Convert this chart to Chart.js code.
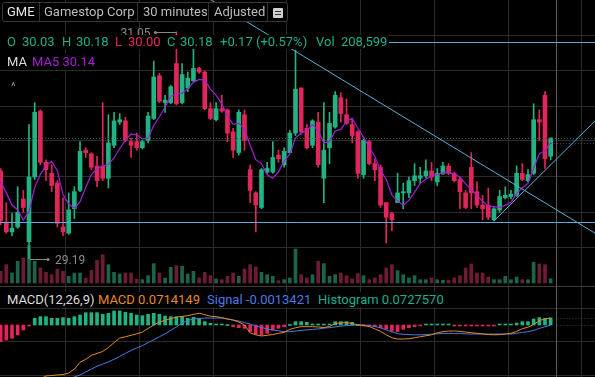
<!DOCTYPE html>
<html>
<head>
<meta charset="utf-8">
<script src="https://cdn.jsdelivr.net/npm/chart.js@4.4.0/dist/chart.umd.min.js"></script>
<style>
  html, body { margin: 0; padding: 0; background: #000; }
  #wrap { position: relative; width: 595px; height: 377px; overflow: hidden; font-family: Roboto, "Open Sans", sans-serif; }
  #c { position: absolute; left: 0; top: 0; }
  .box { position: absolute; background: #000; }
  .t { position: absolute; white-space: nowrap; font-size: 13px; line-height: 14px; }
  .sep { position: absolute; top: 3px; width: 1px; height: 18px; background: #333; }
  .mk { position: absolute; font-size: 12px; line-height: 12px; color: #8a8a8a; white-space: nowrap; }
</style>
</head>
<body>
<div id="wrap">
  <canvas id="c" width="595" height="377"></canvas>
  <div id="hiLbl" class="mk">31.05</div>
  <div id="loLbl" class="mk">29.19</div>

  <div class="box" style="left:2px;top:2px;width:284px;height:18px;border:1px solid #383838;border-radius:3px"></div>
  <div class="t" style="left:7px;top:5px;color:#e6e6e6">GME</div>
  <div class="sep" style="left:39px"></div>
  <div class="t" style="left:44px;top:5px;color:#bdbdbd">Gamestop Corp</div>
  <div class="sep" style="left:137px"></div>
  <div class="t" style="left:143px;top:5px;color:#bdbdbd">30 minutes</div>
  <div class="sep" style="left:208px"></div>
  <div class="t" style="left:214px;top:5px;color:#bdbdbd">Adjusted</div>
  <div class="sep" style="left:267px"></div>
  <div style="position:absolute;left:273px;top:8px;width:10px;height:10px;background:#cfcfcf;border-radius:1px"></div>
  <div style="position:absolute;left:275px;top:11px;width:6px;height:1px;background:#333"></div>
  <div style="position:absolute;left:275px;top:14px;width:6px;height:1px;background:#333"></div>

  <div class="box" style="left:0;top:35px;width:389px;height:14px"></div>
  <div class="t" style="left:7px;top:35px;color:#1fae8e">O</div>
  <div class="t" style="left:22px;top:35px;color:#1fae8e">30.03</div>
  <div class="t" style="left:62px;top:35px;color:#1fae8e">H</div>
  <div class="t" style="left:76px;top:35px;color:#1fae8e">30.18</div>
  <div class="t" style="left:115px;top:35px;color:#e8285c">L</div>
  <div class="t" style="left:128px;top:35px;color:#e8285c">30.00</div>
  <div class="t" style="left:167px;top:35px;color:#1fae8e">C</div>
  <div class="t" style="left:180px;top:35px;color:#1fae8e">30.18</div>
  <div class="t" style="left:220px;top:35px;color:#1fae8e">+0.17 (+0.57%)</div>
  <div class="t" style="left:316px;top:35px;color:#1fae8e">Vol&nbsp; 208,599</div>

  <div class="box" style="left:0;top:53px;width:100px;height:17px"></div>
  <div class="t" style="left:7px;top:55px;color:#dcdcdc">MA</div>
  <div class="t" style="left:32px;top:55px;color:#a51ed6">MA5 30.14</div>
  <div class="t" style="left:11px;top:80px;font-size:11px;color:#9a9a9a">^</div>

  <div class="box" style="left:0;top:292px;width:447px;height:15px"></div>
  <div class="t" style="left:7px;top:293px;color:#dcdcdc">MACD(12,26,9)</div>
  <div class="t" style="left:98px;top:293px;color:#e68a24">MACD 0.0714149</div>
  <div class="t" style="left:207px;top:293px;color:#4a7be6">Signal -0.0013421</div>
  <div class="t" style="left:318px;top:293px;color:#1fae8e">Histogram 0.0727570</div>
</div>
<script>
// 30 minute bars, index 0 = first bar of a session
const firstIndex = -5;
const slots = ['09:30','10:00','10:30','11:00','11:30','12:00','12:30','13:00','13:30','14:00','14:30','15:00','15:30'];

const opens = [29.91,29.49,29.41,29.45,29.68,
  29.33,29.86,30.40,29.98,29.89,29.81,29.45,29.40,29.60,29.75,30.08,30.05,29.95,
  29.95,29.85,30.12,30.31,30.32,30.15,30.15,30.10,30.16,30.34,30.69,30.47,30.47,
  30.79,30.47,30.59,30.65,30.75,30.72,30.42,30.33,30.42,30.41,30.23,30.06,30.37,
  29.92,29.73,29.61,29.90,29.90,30.04,29.96,30.06,30.22,30.59,30.26,30.12,30.31,
  29.85,30.10,30.27,30.51,30.37,30.29,30.23,29.88,30.15,29.97,29.94,29.65,29.56,
  29.65,29.73,29.73,29.83,29.85,29.87,29.91,29.82,29.89,29.95,29.89,29.84,29.73,
  29.94,29.74,29.63,29.63,29.51,29.59,29.69,29.70,29.71,29.89,29.83,29.89,30.33,
  30.53,30.03];
const highs = [29.93,29.65,29.56,29.78,29.75,
  30.29,30.47,30.41,30.00,29.96,29.83,29.69,29.73,29.78,30.15,30.10,30.06,30.03,
  30.47,30.37,30.39,30.38,30.35,30.18,30.22,30.16,30.39,30.81,30.71,30.53,30.61,
  31.05,30.79,30.72,30.94,30.76,30.73,30.47,30.47,30.53,30.42,30.26,30.41,30.41,
  29.96,29.74,29.93,29.98,30.15,30.08,30.10,30.24,30.90,30.59,30.29,30.33,30.39,
  30.47,30.39,30.56,30.55,30.50,30.34,30.24,30.19,30.16,30.01,29.96,29.65,29.57,
  29.89,29.81,29.86,29.97,29.94,30.00,29.98,29.93,29.98,29.97,29.90,29.86,29.75,
  30.06,29.82,29.71,29.77,29.61,29.75,29.78,29.75,29.95,29.97,29.92,30.46,30.41,
  30.56,30.18];
const lows = [29.47,29.40,29.38,29.44,29.57,
  29.19,29.84,29.96,29.83,29.74,29.45,29.38,29.39,29.52,29.74,30.02,29.92,29.78,
  29.83,29.77,30.10,30.29,30.15,30.02,30.08,30.09,30.14,30.33,30.47,30.39,30.46,
  30.45,30.46,30.56,30.64,30.71,30.41,30.33,30.32,30.39,30.15,30.02,30.04,30.08,
  29.65,29.41,29.60,29.89,29.89,29.98,29.94,30.06,30.20,30.21,30.09,30.10,29.94,
  29.65,29.97,30.26,30.31,30.29,30.14,29.85,29.85,29.96,29.83,29.61,29.32,29.42,
  29.65,29.60,29.69,29.79,29.81,29.85,29.83,29.79,29.88,29.88,29.82,29.60,29.60,
  29.60,29.61,29.51,29.51,29.50,29.57,29.68,29.68,29.70,29.83,29.82,29.88,30.16,
  29.93,30.00];
const closes = [29.50,29.41,29.44,29.57,29.61,
  29.86,30.39,29.98,29.92,29.79,29.48,29.41,29.59,29.74,30.07,30.06,29.94,29.83,
  29.85,30.14,30.32,30.33,30.16,30.12,30.10,30.15,30.36,30.68,30.48,30.49,30.60,
  30.46,30.70,30.67,30.75,30.72,30.42,30.34,30.42,30.40,30.22,30.08,30.39,30.16,
  29.75,29.63,29.92,29.93,30.02,30.01,30.07,30.22,30.58,30.23,30.10,30.32,29.96,
  30.08,30.30,30.53,30.38,30.30,30.20,29.89,30.16,29.97,29.92,29.63,29.53,29.51,
  29.73,29.74,29.83,29.87,29.87,29.91,29.86,29.89,29.95,29.89,29.83,29.74,29.61,
  29.73,29.63,29.60,29.53,29.60,29.70,29.71,29.72,29.89,29.84,29.88,30.33,30.31,
  30.01,30.18];
const volumes = [560000,880000,480000,1040000,1200000,
  1800000,1040000,720000,512000,400000,672000,560000,320000,480000,480000,240000,608000,1090000,
  1360000,880000,512000,432000,480000,480000,192000,160000,352000,928000,480000,240000,752000,
  832000,800000,432000,560000,240000,512000,352000,192000,160000,320000,480000,320000,672000,
  880000,768000,512000,400000,320000,112000,160000,240000,1630000,400000,240000,400000,1040000,
  928000,320000,400000,480000,352000,192000,448000,352000,160000,240000,400000,720000,880000,
  592000,400000,240000,352000,160000,160000,240000,160000,128000,128000,240000,352000,720000,
  912000,480000,480000,288000,160000,160000,320000,160000,288000,160000,160000,1000000,912000,
  880000,208599];
// MA5 for the first four bars needs closes before the window
const ma5Start = [29.82,29.73,29.63,29.59];

const macdLine = [-0.78,-0.76,-0.74,-0.71,-0.68,
  -0.62,-0.58,-0.55,-0.52,-0.515,-0.51,-0.505,-0.49,-0.45,-0.38,-0.35,-0.31,-0.29,
  -0.27,-0.23,-0.18,-0.133,-0.12,-0.105,-0.09,-0.072,-0.035,0.0,0.03,0.048,0.065,
  0.08,0.088,0.095,0.108,0.12,0.105,0.09,0.085,0.075,0.062,0.05,0.03,0.0,
  -0.08,-0.1,-0.112,-0.105,-0.097,-0.085,-0.075,-0.045,-0.028,-0.017,-0.017,-0.017,-0.02,
  -0.027,-0.015,0.015,0.022,0.024,0.015,0.0,-0.005,-0.015,-0.04,-0.065,-0.1,-0.13,
  -0.143,-0.143,-0.14,-0.13,-0.12,-0.11,-0.1,-0.08,-0.068,-0.062,-0.061,-0.065,-0.072,
  -0.078,-0.085,-0.092,-0.097,-0.1,-0.098,-0.092,-0.085,-0.065,-0.038,-0.022,0.005,0.045,
  0.062,0.0714];
const signalLine = [-0.61,-0.61,-0.61,-0.61,-0.62,
  -0.62,-0.62,-0.62,-0.6,-0.58,-0.57,-0.56,-0.55,-0.53,-0.51,-0.48,-0.45,-0.42,
  -0.4,-0.375,-0.35,-0.32,-0.29,-0.26,-0.235,-0.21,-0.18,-0.15,-0.12,-0.09,-0.055,
  -0.02,0.02,0.045,0.062,0.067,0.071,0.071,0.071,0.07,0.06,0.051,0.04,0.025,
  0.01,-0.01,-0.025,-0.04,-0.051,-0.06,-0.068,-0.068,-0.062,-0.055,-0.05,-0.045,-0.04,
  -0.032,-0.027,-0.02,-0.012,-0.005,-0.002,0.0,0.0,-0.005,-0.015,-0.03,-0.05,-0.07,
  -0.088,-0.095,-0.098,-0.1,-0.1,-0.098,-0.094,-0.09,-0.086,-0.085,-0.086,-0.088,-0.09,
  -0.092,-0.092,-0.092,-0.092,-0.092,-0.092,-0.092,-0.092,-0.085,-0.075,-0.068,-0.055,-0.035,
  -0.017,-0.0013];
const histogram = [-0.17,-0.153,-0.136,-0.102,-0.051,
  -0.01,0.068,0.085,0.085,0.068,0.068,0.075,0.068,0.085,0.102,0.126,0.126,0.126,
  0.109,0.119,0.143,0.143,0.129,0.119,0.102,0.095,0.109,0.119,0.109,0.092,0.085,
  0.085,0.085,0.068,0.078,0.068,0.034,0.017,0.007,0.007,0.0,-0.017,-0.027,-0.034,
  -0.068,-0.095,-0.102,-0.085,-0.051,-0.034,-0.017,0.0,0.034,0.034,0.027,0.007,0.007,
  0.007,0.007,0.034,0.034,0.034,0.027,0.0,-0.005,-0.01,-0.017,-0.027,-0.041,-0.061,
  -0.068,-0.044,-0.027,-0.017,-0.007,0.007,0.007,0.007,0.007,0.007,-0.007,-0.007,-0.007,
  -0.007,-0.007,-0.007,-0.007,-0.007,0.007,0.007,0.007,0.02,0.034,0.034,0.061,0.075,
  0.068,0.0728];

const priceGrid = [31.024, 30.737, 30.442, 30.163, 29.868, 29.573, 29.286];
const macdGrid = [0.388, 0.173, -0.173, -0.52];
const dayStarts = [0, 13, 26, 39, 52, 65, 78, 91];
const cursorIndex = 93;

// drawn studies: [bar index, price]
const trendDown = [[47, 30.89], [92, 29.62]];
const trendUp = [[82, 29.50], [92, 29.96]];
const levels = [29.49, 30.97];

const UP = '#21b383', DOWN = '#e0265a';
const VOL_UP = '#1b644b', VOL_DOWN = '#6e1c33';
const DRAW = '#5aaed4';

const idx = closes.map((_, i) => firstIndex + i);
const barTimes = idx.map(k => slots[((k % 13) + 13) % 13]);
const isUp = closes.map((c, i) => c >= opens[i]);

const ma5 = closes.map((c, i) => {
  if (i < 4) return ma5Start[i];
  let s = 0;
  for (let j = i - 4; j <= i; j++) s += closes[j];
  return s / 5;
});

const hidden = { display: false };
function gridAxis(values, extra) {
  return Object.assign({
    display: true,
    ticks: { display: false },
    border: { display: false },
    grid: { color: '#2b2b2b', lineWidth: 1, drawTicks: false },
    afterBuildTicks: s => { s.ticks = values.map(v => ({ value: v })); }
  }, extra);
}

const overlay = {
  id: 'overlay',
  afterDatasetsDraw(chart) {
    const { ctx, chartArea: a, scales } = chart;
    const x = scales.x, y = scales.y, ym = scales.yMacd;
    ctx.save();

    // dotted price lines
    ctx.lineWidth = 1;
    ctx.setLineDash([1, 2]);
    ctx.strokeStyle = '#1d6e58';
    let py = Math.round(y.getPixelForValue(closes[closes.length - 1])) + 0.5;
    ctx.beginPath(); ctx.moveTo(a.left, py); ctx.lineTo(a.right, py); ctx.stroke();
    ctx.strokeStyle = '#5a4068';
    py = Math.round(y.getPixelForValue(ma5[ma5.length - 1])) + 0.5;
    ctx.beginPath(); ctx.moveTo(x.getPixelForValue(91.5), py); ctx.lineTo(a.right, py); ctx.stroke();
    ctx.strokeStyle = '#33405a';
    [macdLine[macdLine.length - 1], signalLine[signalLine.length - 1]].forEach(v => {
      const p = Math.round(ym.getPixelForValue(v)) + 0.5;
      ctx.beginPath(); ctx.moveTo(x.getPixelForValue(cursorIndex + 0.2), p); ctx.lineTo(a.right, p); ctx.stroke();
    });
    ctx.setLineDash([]);

    // cursor
    ctx.strokeStyle = '#5c5c5c';
    const cx = Math.round(x.getPixelForValue(cursorIndex)) + 0.5;
    ctx.beginPath(); ctx.moveTo(cx, a.top); ctx.lineTo(cx, a.bottom); ctx.stroke();

    // drawings
    ctx.strokeStyle = DRAW;
    ctx.lineWidth = 1;
    levels.forEach(v => {
      const p = Math.round(y.getPixelForValue(v)) + 0.5;
      ctx.beginPath(); ctx.moveTo(a.left, p); ctx.lineTo(a.right, p); ctx.stroke();
    });
    function seg(pts, both) {
      const x1 = x.getPixelForValue(pts[0][0]), y1 = y.getPixelForValue(pts[0][1]);
      const x2 = x.getPixelForValue(pts[1][0]), y2 = y.getPixelForValue(pts[1][1]);
      const m = (y2 - y1) / (x2 - x1);
      const xs = both ? a.left : x1;
      ctx.beginPath();
      ctx.moveTo(xs, y1 + (xs - x1) * m);
      ctx.lineTo(a.right, y1 + (a.right - x1) * m);
      ctx.stroke();
    }
    seg(trendDown, true);
    seg(trendUp, false);

    // high / low markers
    const hi = highs.indexOf(Math.max(...highs));
    const lo = lows.indexOf(Math.min(...lows));
    ctx.strokeStyle = '#8a8a8a';
    ctx.fillStyle = '#8a8a8a';
    const hx = x.getPixelForValue(idx[hi]), hy = Math.round(y.getPixelForValue(highs[hi])) + 0.5;
    ctx.beginPath(); ctx.moveTo(hx - 21, hy); ctx.lineTo(hx, hy); ctx.stroke();
    ctx.beginPath(); ctx.arc(hx - 21, hy, 1.5, 0, Math.PI * 2); ctx.fill();
    const lx = x.getPixelForValue(idx[lo]), ly = Math.round(y.getPixelForValue(lows[lo])) + 0.5;
    ctx.beginPath(); ctx.moveTo(lx + 1, ly); ctx.lineTo(lx + 19, ly); ctx.stroke();
    ctx.beginPath(); ctx.arc(lx + 19, ly, 1.5, 0, Math.PI * 2); ctx.fill();
    ctx.restore();

    const hl = document.getElementById('hiLbl');
    hl.textContent = highs[hi].toFixed(2);
    hl.style.left = (hx - 26 - hl.offsetWidth) + 'px';
    hl.style.top = (hy - 6) + 'px';
    const ll = document.getElementById('loLbl');
    ll.textContent = lows[lo].toFixed(2);
    ll.style.left = (lx + 26) + 'px';
    ll.style.top = (ly - 6) + 'px';
  }
};

new Chart(document.getElementById('c'), {
  type: 'bar',
  data: {
    labels: barTimes,
    datasets: [
      { label: 'Volume', yAxisID: 'yVol', order: 10, grouped: false, barThickness: 3,
        data: idx.map((k, i) => ({ x: k, y: volumes[i] })),
        backgroundColor: isUp.map(u => u ? VOL_UP : VOL_DOWN) },
      { label: 'Range', yAxisID: 'y', order: 6, grouped: false, barThickness: 1,
        data: idx.map((k, i) => ({ x: k, y: [lows[i], highs[i]] })),
        backgroundColor: isUp.map(u => u ? UP : DOWN) },
      { label: 'Body', yAxisID: 'y', order: 5, grouped: false, barThickness: 4, minBarLength: 1,
        data: idx.map((k, i) => ({ x: k, y: [opens[i], closes[i]] })),
        backgroundColor: isUp.map(u => u ? UP : DOWN) },
      { label: 'MA5', type: 'line', yAxisID: 'y', order: 4,
        data: idx.map((k, i) => ({ x: k, y: ma5[i] })),
        borderColor: '#a51ed6', borderWidth: 1.2, pointRadius: 0, tension: 0 },
      { label: 'Histogram', yAxisID: 'yMacd', order: 7, grouped: false, barThickness: 3, minBarLength: 1,
        data: idx.map((k, i) => ({ x: k, y: histogram[i] })),
        backgroundColor: histogram.map(v => v >= 0 ? UP : DOWN) },
      { label: 'MACD', type: 'line', yAxisID: 'yMacd', order: 2,
        data: idx.map((k, i) => ({ x: k, y: macdLine[i] })),
        borderColor: '#e68a24', borderWidth: 1, pointRadius: 0 },
      { label: 'Signal', type: 'line', yAxisID: 'yMacd', order: 3,
        data: idx.map((k, i) => ({ x: k, y: signalLine[i] })),
        borderColor: '#4a7be6', borderWidth: 1, pointRadius: 0 }
    ]
  },
  options: {
    responsive: false,
    animation: false,
    events: [],
    layout: { padding: 0, autoPadding: false },
    plugins: { legend: hidden, tooltip: { enabled: false } },
    scales: {
      x: gridAxis(dayStarts, { type: 'linear', min: -5.115, max: 99.82, offset: false }),
      y: gridAxis(priceGrid, { position: 'right', min: 28.2207, max: 31.311 }),
      yVol: { display: false, min: -4512000, max: 13584000 },
      yMacd: gridAxis(macdGrid, {
        position: 'right', min: -0.5306, max: 3.3163,
        grid: { color: c => c.tick && c.tick.value === macdGrid[0] ? '#3c3c3c' : '#2b2b2b', drawTicks: false }
      })
    }
  },
  plugins: [overlay]
});
</script>
</body>
</html>
